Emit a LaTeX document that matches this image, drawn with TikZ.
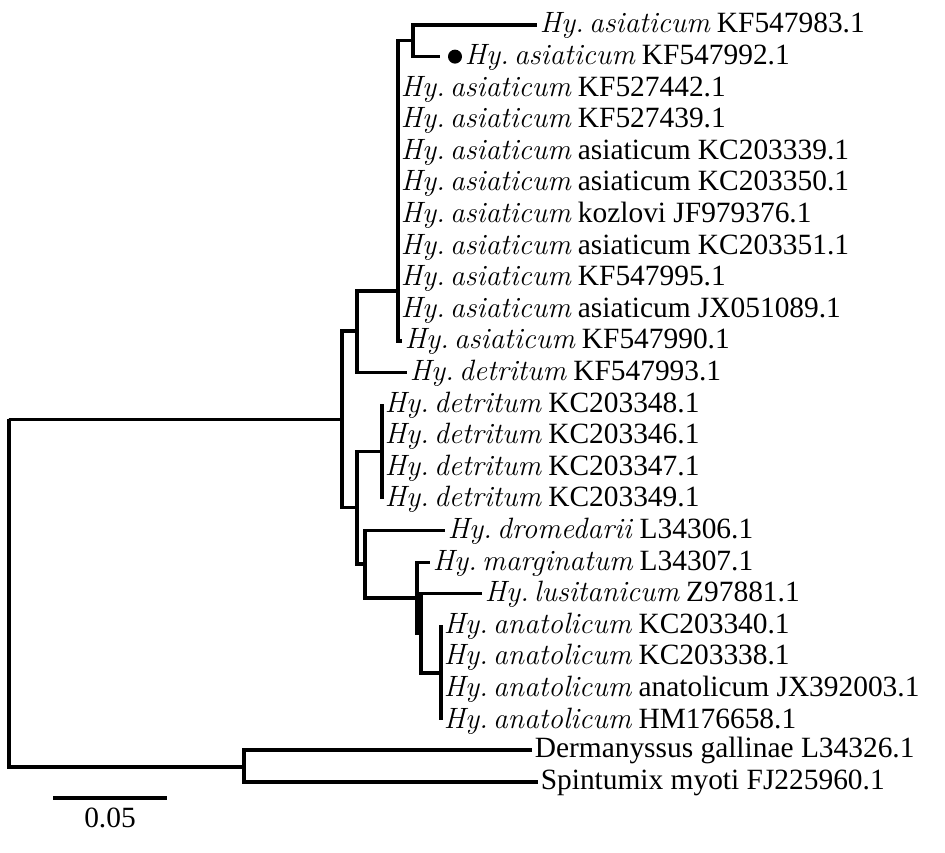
\documentclass[tikz,border=0pt]{standalone}
\usepackage{fontspec}
\newfontfamily\tnr{Liberation Serif}
\newcommand{\hyl}[2]{\textit{Hy.\kern0.18em#1}\kern0.22em{\tnr #2}}
\tikzset{
  br/.style={line width=1.6pt},
  lab/.style={anchor=west, inner sep=1.2pt, font=\fontsize{14.7}{16}\selectfont, text height=10.8pt, text depth=2.9pt},
}
\begin{document}
\frenchspacing
\begin{tikzpicture}[x=0.5pt,y=-0.5pt]
\useasboundingbox (0,0) rectangle (945,852);
% internal nodes
\coordinate (root) at (9,419);
\coordinate (ing) at (342,419.5);
\coordinate (out) at (244,767);
\coordinate (na) at (357,331);
\coordinate (asia) at (398,291);
\coordinate (sub) at (413,40.8);
\coordinate (nb) at (357,507.5);
\coordinate (det) at (382,451.6);
\coordinate (nc) at (365,564);
\coordinate (nm) at (417,598);
\coordinate (nl) at (421,633);
\coordinate (ana) at (441,673);
% tips
\coordinate (t0) at (537,25);
\coordinate (t1) at (440,56.6);
\coordinate (t2) at (398,88.2);
\coordinate (t3) at (398,119.8);
\coordinate (t4) at (398,151.4);
\coordinate (t5) at (398,183);
\coordinate (t6) at (398,214.6);
\coordinate (t7) at (398,246.2);
\coordinate (t8) at (398,277.8);
\coordinate (t9) at (398,309.4);
\coordinate (t10) at (402,341);
\coordinate (t11) at (407,372.6);
\coordinate (t12) at (382,404.2);
\coordinate (t13) at (382,435.8);
\coordinate (t14) at (382,467.4);
\coordinate (t15) at (382,499);
\coordinate (t16) at (445,530.6);
\coordinate (t17) at (430,562.2);
\coordinate (t18) at (482,593.8);
\coordinate (t19) at (441,625.4);
\coordinate (t20) at (441,657);
\coordinate (t21) at (441,688.6);
\coordinate (t22) at (441,720.2);
\coordinate (t23) at (532,750);
\coordinate (t24) at (538,782);
% labels
\node[circle, fill=black, inner sep=0pt, minimum size=7pt] (dot) at (455,56.6) {};
\node[lab] (l0) at (t0) {\hyl{asiaticum}{KF547983.1}};
\node[lab] (l1) at (462,56.6) {\hyl{asiaticum}{KF547992.1}};
\node[lab] (l2) at (t2) {\hyl{asiaticum}{KF527442.1}};
\node[lab] (l3) at (t3) {\hyl{asiaticum}{KF527439.1}};
\node[lab] (l4) at (t4) {\hyl{asiaticum}{asiaticum KC203339.1}};
\node[lab] (l5) at (t5) {\hyl{asiaticum}{asiaticum KC203350.1}};
\node[lab] (l6) at (t6) {\hyl{asiaticum}{kozlovi JF979376.1}};
\node[lab] (l7) at (t7) {\hyl{asiaticum}{asiaticum KC203351.1}};
\node[lab] (l8) at (t8) {\hyl{asiaticum}{KF547995.1}};
\node[lab] (l9) at (t9) {\hyl{asiaticum}{asiaticum JX051089.1}};
\node[lab] (l10) at (t10) {\hyl{asiaticum}{KF547990.1}};
\node[lab] (l11) at (t11) {\hyl{detritum}{KF547993.1}};
\node[lab] (l12) at (t12) {\hyl{detritum}{KC203348.1}};
\node[lab] (l13) at (t13) {\hyl{detritum}{KC203346.1}};
\node[lab] (l14) at (t14) {\hyl{detritum}{KC203347.1}};
\node[lab] (l15) at (t15) {\hyl{detritum}{KC203349.1}};
\node[lab] (l16) at (t16) {\hyl{dromedarii}{L34306.1}};
\node[lab] (l17) at (t17) {\hyl{marginatum}{L34307.1}};
\node[lab] (l18) at (t18) {\hyl{lusitanicum}{Z97881.1}};
\node[lab] (l19) at (t19) {\hyl{anatolicum}{KC203340.1}};
\node[lab] (l20) at (t20) {\hyl{anatolicum}{KC203338.1}};
\node[lab] (l21) at (t21) {\hyl{anatolicum}{anatolicum JX392003.1}};
\node[lab] (l22) at (t22) {\hyl{anatolicum}{HM176658.1}};
\node[lab] (l23) at (t23) {\tnr Dermanyssus gallinae L34326.1};
\node[lab] (l24) at (t24) {\tnr Spintumix myoti FJ225960.1};
% branches
\draw[br] (root) |- (ing);
\draw[br] (root) |- (out);
\draw[br] (out) |- (t23);
\draw[br] (out) |- (t24);
\draw[br] (ing) |- (na);
\draw[br] (ing) |- (nb);
\draw[br] (na) |- (asia);
\draw[br] (na) |- (t11);
\draw[br] (asia) |- (sub);
\draw[br] (sub) |- (t0);
\draw[br] (sub) |- (t1);
\draw[br] (asia) |- (t10);
\draw[br] (nb) |- (det);
\draw[br] (nb) |- (nc);
\draw[br] (det) -- (t12);
\draw[br] (det) -- (t15);
\draw[br] (nc) |- (t16);
\draw[br] (nc) |- (nm);
\draw[br] (nm) |- (t17);
\draw[br] (nm) |- (nl);
\draw[br] (nl) |- (t18);
\draw[br] (nl) |- (ana);
\draw[br] (ana) -- (t19);
\draw[br] (ana) -- (t22);
% scale bar
\coordinate (sb1) at (53,798);
\coordinate (sb2) at (167,798);
\draw[br] (sb1) -- (sb2);
\node[font=\fontsize{14.7}{16}\selectfont\tnr, inner sep=0pt] (sblab) at (110,818) {0.05};
\end{tikzpicture}
\end{document}
